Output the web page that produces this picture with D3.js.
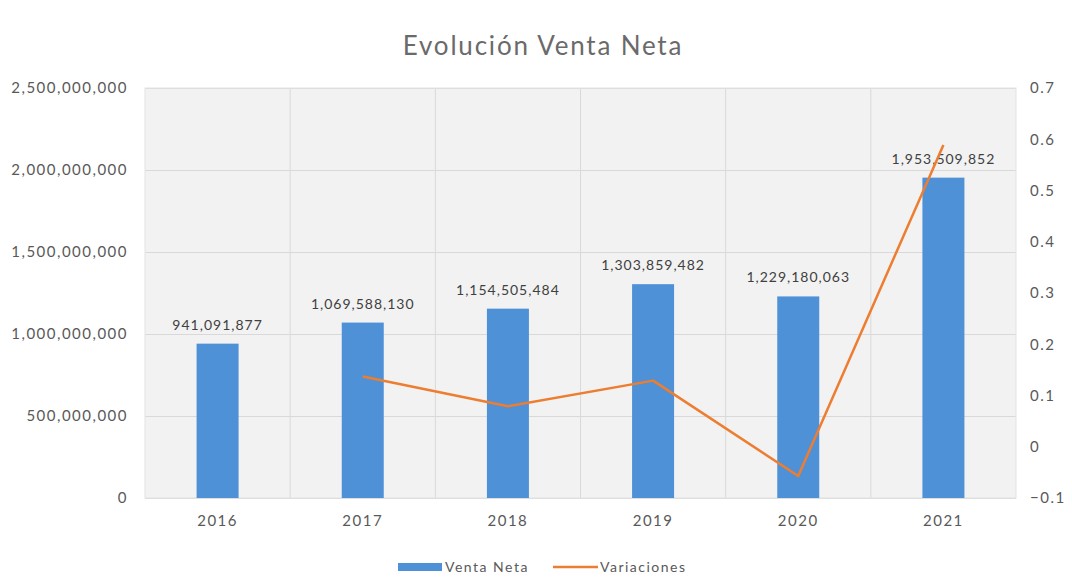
<!DOCTYPE html>
<html>
<head>
<meta charset="utf-8">
<script src="https://cdn.jsdelivr.net/npm/d3@7"></script>
<style>
  body { margin: 0; background: #fff; }
  svg text { font-family: Lato, "Open Sans", sans-serif; }
</style>
</head>
<body>
<div id="chart"></div>
<script>
// data
const years = ['2016', '2017', '2018', '2019', '2020', '2021'];
const ventaNeta = [941091877, 1069588130, 1154505484, 1303859482, 1229180063, 1953509852];
const variaciones = [null, 0.137, 0.079, 0.129, -0.057, 0.589];
const leftTicks = [0, 500000000, 1000000000, 1500000000, 2000000000, 2500000000];
const rightTicks = [-0.1, 0, 0.1, 0.2, 0.3, 0.4, 0.5, 0.6, 0.7];

const barColor = '#4e91d6';
const lineColor = '#ed7d31';
const textColor = '#595959';

const width = 1072, height = 585;
const margin = { top: 88, right: 56, bottom: 87, left: 145 };

const svg = d3.select('#chart')
    .append('svg')
    .attr('width', width)
    .attr('height', height);

// title
svg.append('text')
    .attr('x', 543)
    .attr('y', 55)
    .attr('text-anchor', 'middle')
    .style('font-size', '26px')
    .style('letter-spacing', '1.8px')
    .style('fill', '#6a6a6a')
    .text('Evolución Venta Neta');

const g = svg.append('g')
    .attr('transform', `translate(${margin.left},${margin.top})`);

const w = width - margin.left - margin.right;
const h = height - margin.top - margin.bottom;

// scales
const x = d3.scaleBand().domain(years).range([0, w]);
const yLeft = d3.scaleLinear().domain([0, 2500000000]).range([h, 0]);
const yRight = d3.scaleLinear().domain([-0.1, 0.7]).range([h, 0]);

// plot background
g.append('rect')
    .attr('width', w)
    .attr('height', h)
    .attr('fill', '#f2f2f2');

// horizontal gridlines
g.append('g')
    .call(d3.axisLeft(yLeft).tickValues(leftTicks).tickSize(-w).tickFormat(''))
    .call(s => s.select('.domain').remove())
    .selectAll('.tick line')
    .attr('stroke', '#d9d9d9');

// vertical category lines
g.selectAll('.vline')
    .data(years.slice(1))
    .join('line')
    .attr('class', 'vline')
    .attr('x1', d => x(d))
    .attr('x2', d => x(d))
    .attr('y1', 0)
    .attr('y2', h)
    .attr('stroke', '#d9d9d9');

g.append('rect')
    .attr('width', w)
    .attr('height', h)
    .attr('fill', 'none')
    .attr('stroke', '#e3e3e3');

// bars
const barW = 42;
g.selectAll('.bar')
    .data(years)
    .join('rect')
    .attr('class', 'bar')
    .attr('x', d => x(d) + x.bandwidth() / 2 - barW / 2)
    .attr('y', (d, i) => yLeft(ventaNeta[i]))
    .attr('width', barW)
    .attr('height', (d, i) => h - yLeft(ventaNeta[i]))
    .attr('fill', barColor);

// bar labels
g.selectAll('.bar-label')
    .data(years)
    .join('text')
    .attr('class', 'bar-label')
    .attr('x', d => x(d) + x.bandwidth() / 2)
    .attr('y', (d, i) => yLeft(ventaNeta[i]) - 14)
    .attr('text-anchor', 'middle')
    .style('font-size', '14px')
    .style('letter-spacing', '1px')
    .style('fill', '#404040')
    .text((d, i) => d3.format(',')(ventaNeta[i]));

// variations line
const lineData = years.map((d, i) => ({ year: d, v: variaciones[i] })).filter(d => d.v !== null);
g.append('path')
    .datum(lineData)
    .attr('fill', 'none')
    .attr('stroke', lineColor)
    .attr('stroke-width', 2.5)
    .attr('stroke-linejoin', 'round')
    .attr('d', d3.line()
        .x(d => x(d.year) + x.bandwidth() / 2)
        .y(d => yRight(d.v)));

// left axis
g.append('g')
    .call(d3.axisLeft(yLeft).tickValues(leftTicks).tickSize(0).tickPadding(17).tickFormat(d3.format(',')))
    .call(s => s.select('.domain').remove())
    .selectAll('text')
    .style('font-size', '15px')
    .style('letter-spacing', '1.5px')
    .style('fill', textColor);

// right axis
g.append('g')
    .attr('transform', `translate(${w},0)`)
    .call(d3.axisRight(yRight).tickValues(rightTicks).tickSize(0).tickPadding(14).tickFormat(d => d3.format('')(+d.toFixed(1))))
    .call(s => s.select('.domain').remove())
    .selectAll('text')
    .style('font-size', '15px')
    .style('letter-spacing', '1.5px')
    .style('fill', textColor);

// bottom axis
g.append('g')
    .attr('transform', `translate(0,${h})`)
    .call(d3.axisBottom(x).tickSize(0).tickPadding(17))
    .call(s => s.select('.domain').remove())
    .selectAll('text')
    .style('font-size', '15px')
    .style('letter-spacing', '1.5px')
    .style('fill', textColor);

// legend
const legend = svg.append('g').attr('transform', 'translate(398,567)');
legend.append('rect')
    .attr('x', 0).attr('y', -4)
    .attr('width', 44).attr('height', 8)
    .attr('fill', barColor);
legend.append('text')
    .attr('x', 47).attr('y', 5)
    .style('font-size', '14px')
    .style('letter-spacing', '1.5px')
    .style('fill', textColor)
    .text('Venta Neta');
legend.append('line')
    .attr('x1', 155).attr('x2', 200)
    .attr('y1', 0).attr('y2', 0)
    .attr('stroke', lineColor)
    .attr('stroke-width', 2.5);
legend.append('text')
    .attr('x', 202).attr('y', 5)
    .style('font-size', '14px')
    .style('letter-spacing', '1.5px')
    .style('fill', textColor)
    .text('Variaciones');
</script>
</body>
</html>
